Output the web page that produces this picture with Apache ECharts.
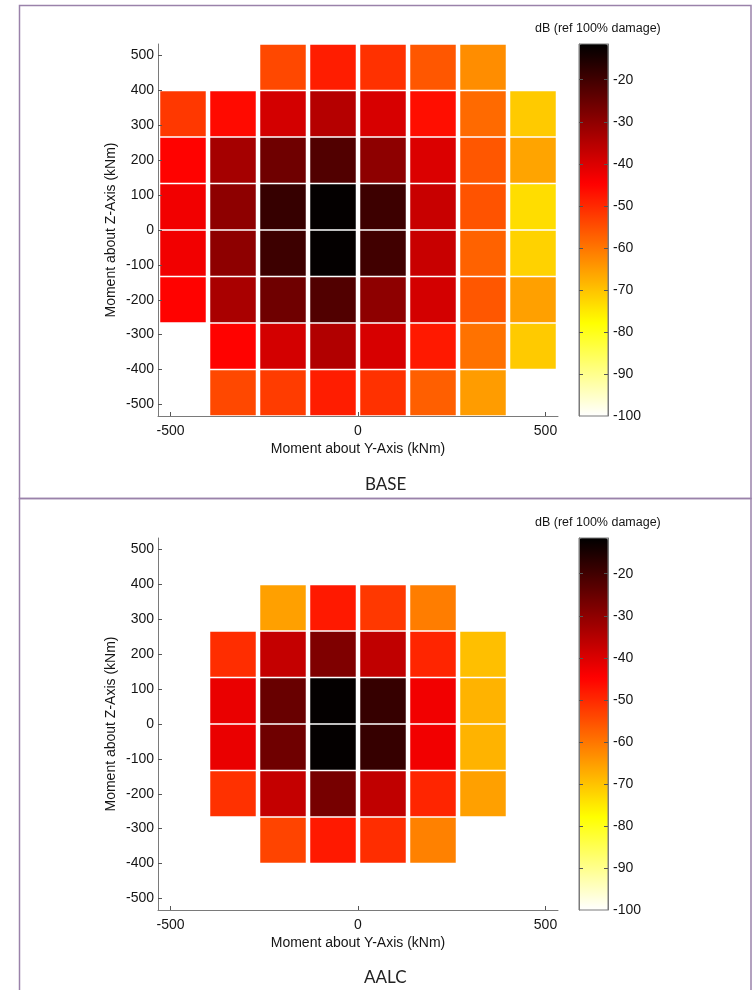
<!DOCTYPE html>
<html>
<head>
    <meta charset="utf-8">
    <title>Damage maps: BASE vs AALC</title>
    <script src="https://cdn.jsdelivr.net/npm/echarts@6/dist/echarts.min.js"></script>
    <style>
        html, body { margin: 0; padding: 0; background: #fff; }
    </style>
</head>
<body>
    <div id="main" style="width: 755px;height:990px;"></div>
    <script type="text/javascript">
        // cell centres (kNm), 8 x 8 grid, each cell 133.33 kNm wide
        var COL_CENTERS = [-466.67, -333.33, -200, -66.67, 66.67, 200, 333.33, 466.67];
        var ROW_CENTERS = [466.67, 333.33, 200, 66.67, -66.67, -200, -333.33, -466.67];
        var CELL = 133.33;

        // dB (ref 100% damage), rows top to bottom, null = no cell
        var BASE_VALUES = [
            [null, null, -54, -48.5, -51, -56, -63, null],
            [-52, -46, -39, -35, -39.5, -46.5, -58.5, -71],
            [-45, -33, -26, -22, -30, -40, -56, -66],
            [-43, -30, -18.5, -12, -19.5, -37.5, -55.5, -73.5],
            [-43, -30, -19.5, -12, -20, -37.5, -57.5, -72],
            [-45, -33.5, -26, -22, -30, -39, -56, -65.5],
            [null, -45, -39, -34.5, -39.5, -48, -59.5, -71],
            [null, -54, -52.5, -48.5, -51, -57, -65, null]
        ];
        var AALC_VALUES = [
            [null, null, null, null, null, null, null, null],
            [null, null, -65.5, -48, -52, -61, null, null],
            [null, -50.5, -37, -28, -36.5, -49.5, -69.5, null],
            [null, -42, -25, -12, -18.5, -43, -68, null],
            [null, -42, -26, -12, -18.5, -43, -68, null],
            [null, -51, -37, -27, -36.5, -49.5, -65.5, null],
            [null, null, -53.5, -48, -50.5, -61.5, null, null],
            [null, null, null, null, null, null, null, null]
        ];

        var X_TICKS = [-500, 0, 500];
        var Y_TICKS = [-500, -400, -300, -200, -100, 0, 100, 200, 300, 400, 500];
        var CB_TICKS = [-100, -90, -80, -70, -60, -50, -40, -30, -20];
        var CB_MIN = -100, CB_MAX = -11.5;
        // flipped "hot" colormap, min -> max
        var HOT = ['#ffffff', '#ffff80', '#ffff00', '#ffaa00', '#ff5500',
                   '#ff0000', '#aa0000', '#550000', '#000000'];

        var X_NAME = 'Moment about Y-Axis (kNm)';
        var Y_NAME = 'Moment about Z-Axis (kNm)';
        var CB_NAME = 'dB (ref 100% damage)';

        var FONT = '"Liberation Sans", Arial, sans-serif';
        var AXIS_GREY = '#7a7a7a';
        var TEXT = '#151515';
        var PANEL_TOP = [44, 538];

        function toCells(values) {
            var out = [];
            for (var i = 0; i < values.length; i++) {
                for (var j = 0; j < values[i].length; j++) {
                    if (values[i][j] !== null) {
                        out.push([COL_CENTERS[j], ROW_CENTERS[i], values[i][j]]);
                    }
                }
            }
            return out;
        }

        // one rectangle per cell, corners from the axes
        function renderCell(params, api) {
            var x = api.value(0), y = api.value(1), h = CELL / 2;
            var p0 = api.coord([x - h, y + h]);
            var p1 = api.coord([x + h, y - h]);
            var gx = 4.5, gy = 1.5;
            return {
                type: 'rect',
                shape: {
                    x: p0[0] + gx / 2,
                    y: p0[1] + gy / 2,
                    width: p1[0] - p0[0] - gx,
                    height: p1[1] - p0[1] - gy
                },
                style: { fill: api.visual('color') }
            };
        }

        var dom = document.getElementById("main");
        var myChart = echarts.init(dom);

        var grids = [], xAxes = [], yAxes = [], series = [], visualMaps = [], titles = [];
        var labelStyle = { color: TEXT, fontSize: 14, fontFamily: FONT };

        [BASE_VALUES, AALC_VALUES].forEach(function (values, k) {
            var top = PANEL_TOP[k];
            grids.push({ left: 158, top: top, width: 400, height: 372 });
            xAxes.push({
                gridIndex: k, type: 'value', min: -533.33, max: 533.33, z: 3,
                axisLine: { onZero: false, lineStyle: { color: AXIS_GREY } },
                axisTick: { inside: true, length: 4, customValues: X_TICKS, lineStyle: { color: '#555' } },
                axisLabel: Object.assign({ customValues: X_TICKS, margin: 8 }, labelStyle),
                splitLine: { show: false },
                name: X_NAME, nameLocation: 'middle', nameGap: 26, nameMoveOverlap: false,
                nameTextStyle: labelStyle
            });
            yAxes.push({
                gridIndex: k, type: 'value', min: -533.33, max: 533.33, z: 3,
                axisLine: { onZero: false, lineStyle: { color: AXIS_GREY } },
                axisTick: { inside: true, length: 4, customValues: Y_TICKS, lineStyle: { color: '#555' } },
                axisLabel: Object.assign({ customValues: Y_TICKS, margin: 4 }, labelStyle),
                splitLine: { show: false },
                name: Y_NAME, nameLocation: 'middle', nameGap: 40, nameRotate: 90, nameMoveOverlap: false,
                nameTextStyle: labelStyle
            });
            series.push({
                type: 'custom', xAxisIndex: k, yAxisIndex: k,
                renderItem: renderCell,
                encode: { x: 0, y: 1 },
                data: toCells(values)
            });
            visualMaps.push({
                type: 'continuous', seriesIndex: k, dimension: 2,
                min: CB_MIN, max: CB_MAX, calculable: false, hoverLink: false,
                orient: 'vertical', left: 579, top: top, padding: 0,
                itemWidth: 29, itemHeight: 372,
                inRange: { color: HOT }
            });
        });

        // colorbar frames and tick labels
        PANEL_TOP.forEach(function (top, k) {
            var g = grids.length;
            grids.push({
                left: 579, top: top, width: 29, height: 372, z: 10,
                show: true, borderColor: AXIS_GREY, borderWidth: 1, backgroundColor: 'rgba(0,0,0,0)'
            });
            xAxes.push({ gridIndex: g, type: 'value', min: 0, max: 1, show: false });
            yAxes.push({
                gridIndex: g, type: 'value', position: 'right', min: CB_MIN, max: CB_MAX, z: 10,
                axisLine: { show: true, onZero: false, lineStyle: { color: AXIS_GREY } },
                axisTick: { inside: true, length: 4, customValues: CB_TICKS.slice(1), lineStyle: { color: '#555' } },
                axisLabel: Object.assign({ customValues: CB_TICKS, margin: 5 }, labelStyle),
                splitLine: { show: false }
            });
            yAxes.push({
                gridIndex: g, type: 'value', position: 'left', min: CB_MIN, max: CB_MAX, z: 10,
                axisLine: { show: true, onZero: false, lineStyle: { color: AXIS_GREY } },
                axisTick: { inside: true, length: 4, customValues: CB_TICKS.slice(1), lineStyle: { color: '#555' } },
                axisLabel: { show: false },
                splitLine: { show: false }
            });
            titles.push({
                text: CB_NAME, left: 535, top: top - 22, padding: 0,
                textStyle: { fontSize: 12.5, fontWeight: 'normal', color: TEXT, fontFamily: FONT }
            });
        });

        var panelTitle = { fontSize: 17, fontWeight: 'normal', color: '#222', fontFamily: 'Lato, "Open Sans", sans-serif' };
        titles.push({ text: 'BASE', left: 365, top: 476, padding: 0, textStyle: panelTitle });
        titles.push({ text: 'AALC', left: 364, top: 969, padding: 0, textStyle: panelTitle });

        var option = {
            backgroundColor: '#ffffff',
            animation: false,
            title: titles,
            grid: grids,
            xAxis: xAxes,
            yAxis: yAxes,
            visualMap: visualMaps,
            series: series,
            graphic: [
                { type: 'rect', shape: { x: 19.5, y: 5.5, width: 731.5, height: 493 },
                  style: { fill: null, stroke: '#9a82aa', lineWidth: 1.5 } },
                { type: 'rect', shape: { x: 19.5, y: 498.5, width: 731.5, height: 520 },
                  style: { fill: null, stroke: '#9a82aa', lineWidth: 1.5 } }
            ]
        };
        myChart.setOption(option, true);
    </script>
</body>
</html>
